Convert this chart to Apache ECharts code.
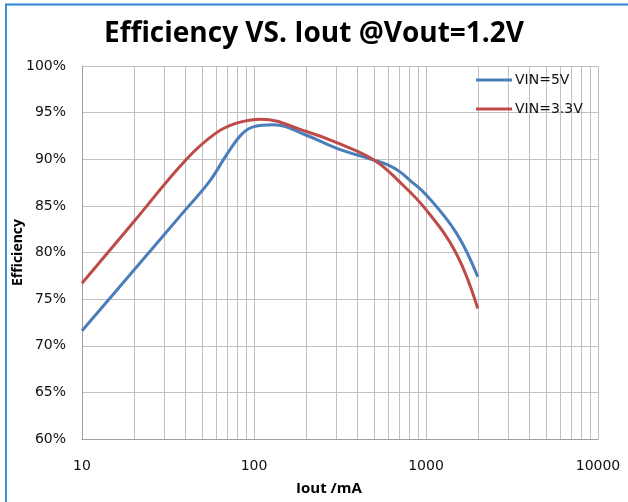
<!DOCTYPE html>
<html>
<head>
<meta charset="utf-8">
<script src="https://cdn.jsdelivr.net/npm/echarts@6/dist/echarts.min.js"></script>
<style>
  html, body { margin: 0; padding: 0; background: #fff; }
  #chart { width: 628px; height: 502px; }
</style>
</head>
<body>
<div id="chart"></div>
<script>
// Iout in mA, efficiency in %
var iout5 = [10, 20, 40, 55, 70, 85, 100, 130, 200, 300, 500, 600, 700, 800, 1000, 1500, 2000];
var vin5 = [71.6, 78.1, 84.6, 87.6, 90.6, 92.7, 93.5, 93.7, 92.6, 91.2, 89.9, 89.4, 88.7, 87.8, 86.2, 82.1, 77.4];
var iout33 = [10, 20, 40, 60, 80, 110, 200, 300, 500, 700, 1000, 1500, 2000];
var vin33 = [76.7, 83.3, 89.9, 92.8, 93.9, 94.3, 93.0, 91.8, 89.9, 87.6, 84.6, 79.9, 74.0];
// minor grid positions on the log axis
var minorX = [20, 30, 40, 50, 60, 70, 80, 90, 200, 300, 400, 500, 600, 700, 800, 900, 2000, 3000, 4000, 5000, 6000, 7000, 8000, 9000];

var gridColor = '#c0c0c0';
var chart = echarts.init(document.getElementById('chart'));

function pairs(xs, ys) {
  return xs.map(function (x, i) { return [x, ys[i]]; });
}

var option = {
  animation: false,
  title: {
    text: 'Efficiency VS. Iout @Vout=1.2V',
    left: 'center',
    top: 15,
    textStyle: { fontFamily: 'Open Sans', fontSize: 28, fontWeight: 'bold', color: '#000' }
  },
  legend: {
    orient: 'vertical',
    left: 471,
    top: 68,
    itemWidth: 36,
    itemHeight: 3,
    itemGap: 15,
    icon: 'rect',
    textStyle: { fontFamily: 'DejaVu Sans', fontSize: 14, color: '#111', padding: [0, 0, 0, -2] },
    data: ['VIN=5V', 'VIN=3.3V']
  },
  graphic: [
    { type: 'line', shape: { x1: 6, y1: 4, x2: 6, y2: 502 }, style: { stroke: '#3d8fd9', lineWidth: 2 } },
    { type: 'line', shape: { x1: 5, y1: 4.5, x2: 628, y2: 4.5 }, style: { stroke: '#2f86d6', lineWidth: 2 } }
  ],
  grid: { left: 82, right: 30, top: 66, bottom: 63, containLabel: false, outerBoundsMode: 'none' },
  xAxis: {
    type: 'log',
    logBase: 10,
    min: 10,
    max: 10000,
    name: 'Iout /mA',
    nameLocation: 'middle',
    nameGap: 42,
    nameMoveOverlap: false,
    nameTextStyle: { fontFamily: 'Open Sans', fontSize: 15, fontWeight: 'bold', color: '#000', padding: [0, 22, 0, 0] },
    axisLine: { lineStyle: { color: '#a0a0a0' } },
    axisTick: { show: false },
    axisLabel: {
      fontFamily: 'DejaVu Sans', fontSize: 14, color: '#111', margin: 20,
      formatter: function (v) { return String(Math.round(v)); }
    },
    splitLine: { show: true, lineStyle: { color: gridColor } }
  },
  yAxis: {
    type: 'value',
    min: 60,
    max: 100,
    interval: 5,
    name: 'Efficiency',
    nameLocation: 'middle',
    nameGap: 57,
    nameMoveOverlap: false,
    nameTextStyle: { fontFamily: 'Open Sans', fontSize: 14, fontWeight: 'bold', color: '#000' },
    axisLine: { show: true, lineStyle: { color: '#a0a0a0' } },
    axisTick: { show: false },
    axisLabel: { formatter: '{value}%', fontFamily: 'DejaVu Sans', fontSize: 14, color: '#111', margin: 16 },
    splitLine: { lineStyle: { color: gridColor } }
  },
  series: [
    {
      name: 'VIN=5V',
      type: 'line',
      data: pairs(iout5, vin5),
      smooth: 0.4,
      showSymbol: false,
      color: '#4a7ebb',
      lineStyle: { width: 3, color: '#4a7ebb' },
      z: 3,
      markLine: {
        silent: true,
        symbol: 'none',
        label: { show: false },
        lineStyle: { color: gridColor, width: 1, type: 'solid' },
        data: minorX.map(function (v) { return { xAxis: v }; }),
        z: 1
      }
    },
    {
      name: 'VIN=3.3V',
      type: 'line',
      data: pairs(iout33, vin33),
      smooth: 0.4,
      showSymbol: false,
      color: '#be4b48',
      lineStyle: { width: 3, color: '#be4b48' },
      z: 3
    }
  ]
};
chart.setOption(option);
</script>
</body>
</html>
